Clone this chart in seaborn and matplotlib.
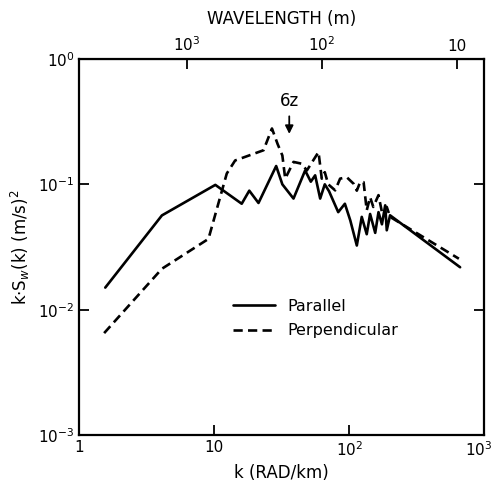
import numpy as np
import pandas as pd
import matplotlib
matplotlib.use("Agg")
import matplotlib.pyplot as plt
import matplotlib.transforms as mtransforms
import seaborn as sns

# wavenumber k (rad/km) and k*S_w(k) values
k_par = [1.56, 4.1, 10.2, 16.0, 18.2, 21.3, 28.8, 32.0, 38.7, 47.2, 52.0, 56.0, 61.0,
         66.0, 71.0, 83.0, 93.0, 102, 114, 124, 135, 143, 156, 165, 175, 185, 190, 201, 664]
s_par = [0.015, 0.0565, 0.099, 0.070, 0.089, 0.071, 0.140, 0.100, 0.077, 0.129, 0.105,
         0.118, 0.077, 0.100, 0.088, 0.060, 0.070, 0.0515, 0.0325, 0.055, 0.040, 0.058,
         0.041, 0.060, 0.048, 0.068, 0.043, 0.0566, 0.0218]

k_perp = [1.53, 4.1, 9.07, 12.4, 14.3, 23.2, 26.8, 29.5, 32.0, 33.6, 38.7, 44.6, 48.6,
          59.3, 62.7, 66.0, 70.0, 78.8, 85.7, 96.0, 108, 114, 121, 128, 135, 143, 151,
          165, 175, 190, 201, 650]
s_perp = [0.0065, 0.0212, 0.0367, 0.122, 0.155, 0.187, 0.279, 0.21, 0.17, 0.111, 0.151,
          0.146, 0.129, 0.181, 0.111, 0.125, 0.100, 0.0895, 0.111, 0.114, 0.101, 0.089,
          0.105, 0.104, 0.062, 0.079, 0.066, 0.082, 0.060, 0.066, 0.055, 0.0255]

df = pd.concat([
    pd.DataFrame({"k": k_par, "s": s_par, "series": "Parallel"}),
    pd.DataFrame({"k": k_perp, "s": s_perp, "series": "Perpendicular"}),
])

sns.set_style("ticks")
plt.rcParams["font.family"] = ["DejaVu Sans"]
plt.rcParams["text.color"] = "black"
plt.rcParams["axes.labelcolor"] = "black"

fig = plt.figure(figsize=(4.95, 4.88), dpi=100)
ax = fig.add_axes([0.16, 0.1086, 0.818, 0.7705])

sns.lineplot(data=df[df.series == "Parallel"], x="k", y="s", color="black",
             linewidth=1.9, sort=False, ax=ax, label="Parallel")
sns.lineplot(data=df[df.series == "Perpendicular"], x="k", y="s", color="black",
             linewidth=1.9, linestyle=(0, (3.5, 2)), sort=False, ax=ax,
             label="Perpendicular")

ax.set_xscale("log")
ax.set_yscale("log")
ax.set_xlim(1, 1000)
ax.set_ylim(1e-3, 1)

ax.set_xticks([1, 10, 100, 1000])
ax.set_xticklabels(["1", "10", "$10^2$", "$10^3$"])
ax.set_yticks([1e-3, 1e-2, 1e-1, 1])
ax.set_yticklabels(["$10^{-3}$", "$10^{-2}$", "$10^{-1}$", "$10^0$"])
ax.minorticks_off()
ax.tick_params(direction="in", length=7, width=1.3, labelsize=11, right=True,
               colors="black")
for sp in ax.spines.values():
    sp.set_linewidth(1.6)
    sp.set_color("black")

# keep the last bottom label inside the figure
last = ax.get_xticklabels()[-1]
last.set_transform(last.get_transform() +
                   mtransforms.ScaledTranslation(-4 / 72, 0, fig.dpi_scale_trans))

ax.set_xlabel("k (RAD/km)", fontsize=12)
ax.set_ylabel("k$\\cdot$S$_w$(k) (m/s)$^2$", fontsize=12)

top = ax.secondary_xaxis("top", functions=(lambda k: 2 * np.pi * 1000 / k,
                                          lambda l: 2 * np.pi * 1000 / l))
top.set_xticks([1000, 100, 10])
top.set_xticklabels(["$10^3$", "$10^2$", "10"])
top.minorticks_off()
top.tick_params(direction="in", length=7, width=1.3, labelsize=11, colors="black")
top.set_xlabel("WAVELENGTH (m)", fontsize=12, labelpad=8)

ax.annotate("6z", xy=(36, 0.24), xytext=(36, 0.39), ha="center", va="bottom",
            fontsize=12,
            arrowprops=dict(arrowstyle="-|>", color="black", lw=1.3))

leg = ax.legend(loc="center", bbox_to_anchor=(0.585, 0.31), frameon=False,
                fontsize=11.5, handlelength=2.6, labelspacing=0.6)

fig.savefig("out.png", dpi=100)
